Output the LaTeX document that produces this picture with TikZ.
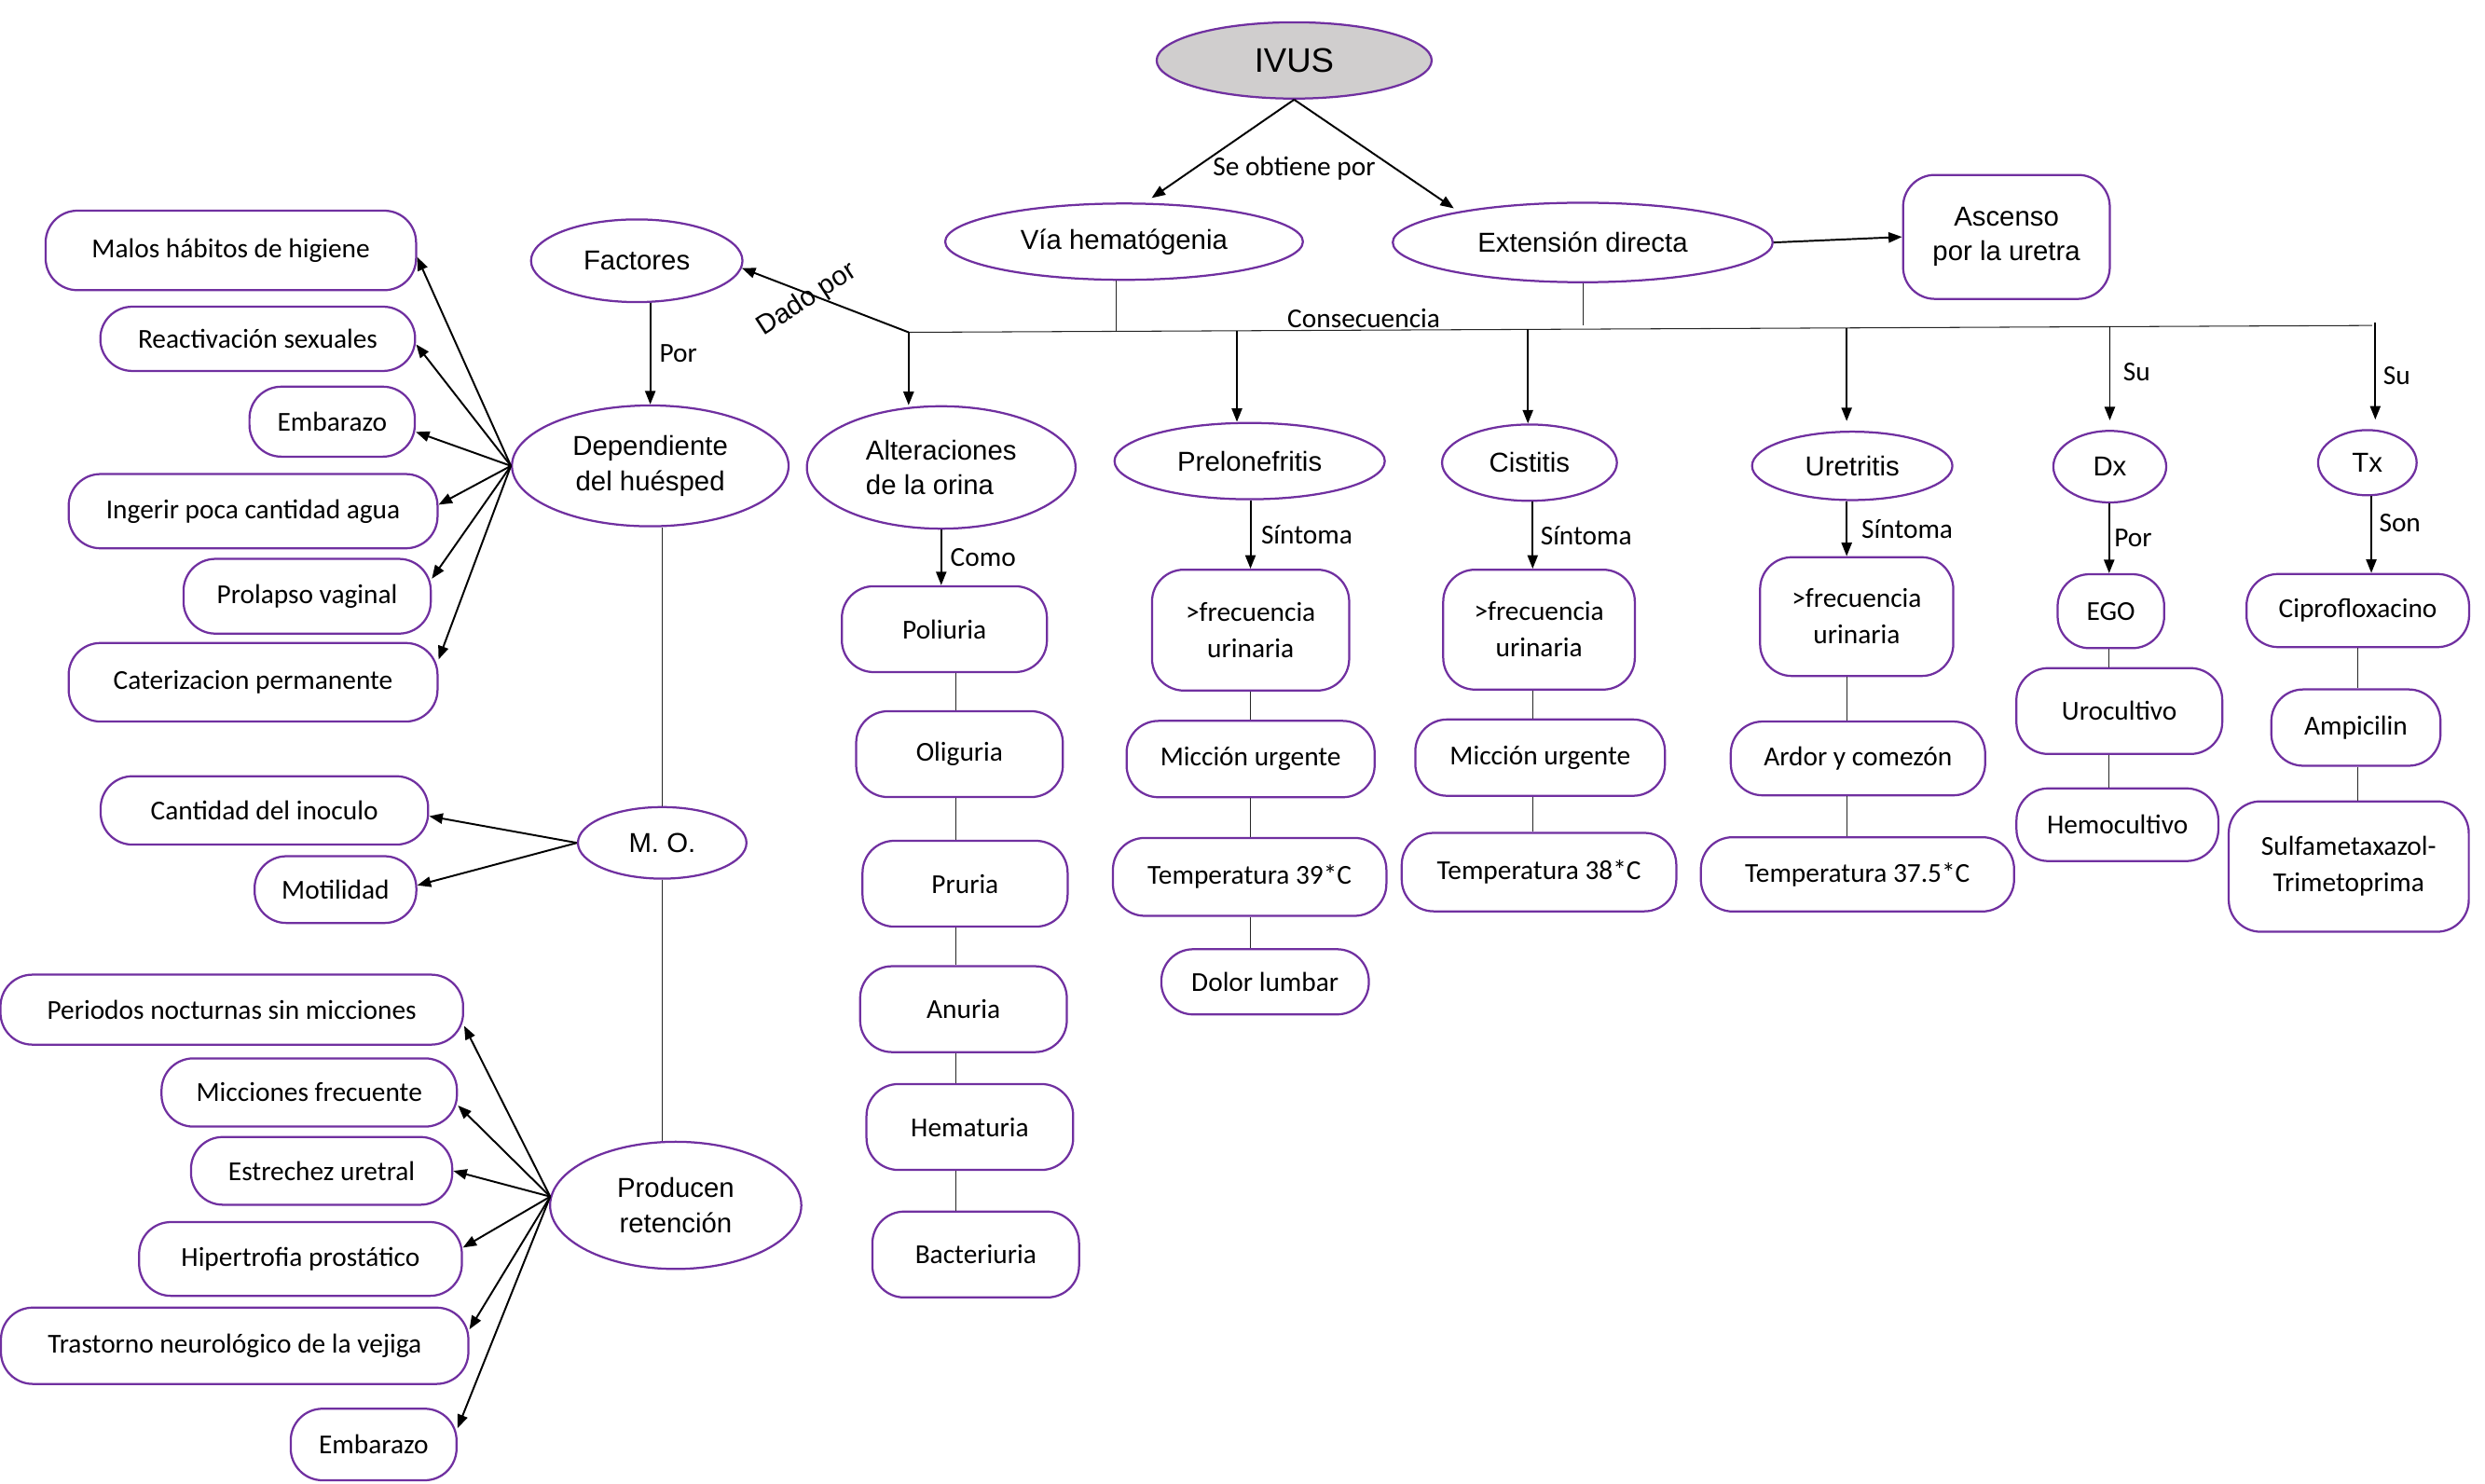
\documentclass[tikz,border=0pt]{standalone}
\usepackage{fontspec}
\setmainfont{Carlito}
\newfontfamily\arial{Liberation Sans}
\usetikzlibrary{positioning, arrows.meta, shapes.geometric}

\definecolor{morado}{HTML}{7030A0}
\definecolor{grisivus}{HTML}{D0CECE}

\tikzset{
    concepto/.style={ellipse, draw=morado, line width=0.75pt, inner sep=0pt,
        align=center, font=\arial\fontsize{9.8}{12.5}\selectfont},
    caja/.style={rectangle, rounded corners=0.4cm, draw=morado, line width=0.75pt,
        inner sep=0pt, align=center, font=\fontsize{9.8}{13}\selectfont},
    tam/.style 2 args={minimum width=#1*0.02cm, minimum height=#2*0.02cm},
    flecha/.style={-{Triangle[length=0.17cm, width=0.13cm]}, line width=0.65pt},
    enlace/.style={line width=0.35pt, draw=black!85},
    etiq/.style={font=\fontsize{9.8}{12}\selectfont, inner sep=0pt},
}

\begin{document}
\begin{tikzpicture}[x=0.02cm, y=-0.02cm]
    \useasboundingbox (0,0) rectangle (1563,933);

    % Nivel superior
    \node[concepto, tam={173}{48}, fill=grisivus, font=\arial\fontsize{12.2}{14}\selectfont] (ivus) at (814,38) {IVUS};
    \node[concepto, tam={225}{48}] (via) at (707,152) {Vía hematógenia};
    \node[concepto, tam={239}{50}] (ext) at (995.5,152.5) {Extensión directa};
    \node[caja, tam={130}{78}, font=\arial\fontsize{9.8}{12.5}\selectfont] (asc) at (1262,149) {Ascenso\\por la uretra};
    \node[etiq] (seob) at (814,106) {Se obtiene por};

    \draw[flecha, shorten >=3pt] (ivus.south) -- (via.62);
    \draw[flecha, shorten >=2pt] (ivus.south) -- (ext.166);
    \draw[flecha] (ext.east) -- (asc.west);

    % Segundo nivel
    \node[concepto, tam={133}{52}] (fac) at (400.5,164) {Factores};
    \node[concepto, tam={174}{76}] (dep) at (409,293) {Dependiente\\del huésped};
    \node[concepto, tam={169}{77}, align=left] (alt) at (592,294) {Alteraciones\\de la orina};
    \node[concepto, tam={170}{48}] (pre) at (786,290) {Prelonefritis};
    \node[concepto, tam={110}{48}] (cis) at (962,291) {Cistitis};
    \node[concepto, tam={126}{43}] (ure) at (1165,293) {Uretritis};
    \node[concepto, tam={71}{45}] (dx) at (1327,293.5) {Dx};
    \node[concepto, tam={62}{41}] (tx) at (1489,291) {Tx};

    % Consecuencia
    \coordinate (ci) at (571.5,209);
    \coordinate (cd) at (1492,204.7);
    \coordinate (kpre) at (778,208);
    \coordinate (kcis) at (961,207.1);
    \coordinate (kure) at (1161.5,206.2);
    \coordinate (kdx) at (1327,205.4);
    \coordinate (ktx) at (1494,203);
    \coordinate (kvia) at (702,208.5);
    \draw[enlace] (ci) -- node[etiq, above=0.5pt, pos=0.311] (cons) {Consecuencia} (cd);
    \draw[enlace] (kvia |- via.south) -- (kvia);
    \draw[enlace] (ext.south) -- (ext.south |- cd);

    \draw[flecha] (ci) -- (fac.-4);
    \node[etiq, font=\arial\fontsize{9.8}{12}\selectfont, rotate=33] (dado) at (507.6,188.5) {Dado por};
    \draw[flecha] (fac.south -| dep.north) -- node[etiq, right=3pt] (por1) {Por} (dep.north);

    \draw[flecha] (ci) -- (ci |- alt.north);
    \draw[flecha] (kpre) -- (kpre |- pre.north);
    \draw[flecha] (kcis) -- (kcis |- cis.north);
    \draw[flecha, shorten >=3.4pt] (kure) -- (kure |- ure.north);
    \draw[flecha, shorten >=3.4pt] (kdx) -- node[etiq, right=4.5pt, pos=0.44] (su1) {Su} (kdx |- dx.north);
    \draw[flecha, shorten >=3.4pt] (ktx) -- node[etiq, right=2.5pt, pos=0.5] (su2) {Su} (ktx |- tx.north);

    % Factores del huesped
    \node[caja, tam={233}{50}] (malos) at (145.2,157.5) {Malos hábitos de higiene};
    \node[caja, tam={198}{40.4}] (react) at (162.1,213.1) {Reactivación sexuales};
    \node[caja, tam={104}{44}] (emb1) at (208.9,265.2) {Embarazo};
    \node[caja, tam={232}{46.7}] (ing) at (159.2,321.5) {Ingerir poca cantidad agua};
    \node[caja, tam={155.5}{47}] (prol) at (193.2,375) {Prolapso vaginal};
    \node[caja, tam={232}{49.4}] (cat) at (159.2,429.1) {Caterizacion permanente};

    \draw[flecha] (dep.west) -- (malos.-2.7);
    \draw[flecha] (dep.west) -- (react.-2.2);
    \draw[flecha] (dep.west) -- (emb1.-7.7);
    \draw[flecha] (dep.west) -- (ing.2.5);
    \draw[flecha] (dep.west) -- (prol.8.5);
    \draw[flecha] (dep.west) -- (cat.7.3);

    % Microorganismo
    \node[concepto, tam={106}{45}] (mo) at (416.5,530.1) {M. O.};
    \node[caja, tam={206}{43}] (cant) at (166.3,509.7) {Cantidad del inoculo};
    \node[caja, tam={101.7}{42}] (mot) at (211,559.5) {Motilidad};
    \draw[enlace] (mo.north |- dep.south) -- (mo.north);
    \draw[flecha] (mo.west) -- (cant.-2.1);
    \draw[flecha] (mo.west) -- (mot.3.6);

    % Retencion
    \node[concepto, tam={158}{80}] (prod) at (425,758.1) {Producen\\retención};
    \draw[enlace] (mo.south) -- (mo.south |- prod.north);
    \node[caja, tam={291}{44}] (per) at (145.8,635) {Periodos nocturnas sin micciones};
    \node[caja, tam={185.8}{42.9}] (mic) at (194.5,687.1) {Micciones frecuente};
    \node[caja, tam={164.3}{42.6}] (est) at (202.3,736.4) {Estrechez uretral};
    \node[caja, tam={203}{46.4}] (hip) at (189,791.8) {Hipertrofia prostático};
    \node[caja, tam={294}{48}] (tras) at (147.6,846.4) {Trastorno neurológico de la vejiga};
    \node[caja, tam={104.3}{45}] (emb2) at (235,908.5) {Embarazo};

    \draw[flecha] (prod.176) -- (per.-4.3);
    \draw[flecha] (prod.176) -- (mic.-5.9);
    \draw[flecha] (prod.176) -- (est.east);
    \draw[flecha] (prod.176) -- (hip.4.4);
    \draw[flecha] (prod.176) -- (tras.4.7);
    \draw[flecha] (prod.176) -- (emb2.11.5);

    % Alteraciones de la orina
    \coordinate (colalt) at (601,0);
    \node[caja, tam={129}{54}] (poli) at (594,395.7) {Poliuria};
    \node[caja, tam={130}{54}] (olig) at (603.5,474.3) {Oliguria};
    \node[caja, tam={129}{54}] (prur) at (607,555.8) {Pruria};
    \node[caja, tam={130}{54}] (anu) at (606,634.7) {Anuria};
    \node[caja, tam={130}{54}] (hema) at (610,708.8) {Hematuria};
    \node[caja, tam={130}{54}] (bact) at (613.7,789) {Bacteriuria};
    \draw[flecha] (alt.south) -- node[etiq, right=3pt] (como) {Como} (alt.south |- poli.north);
    \foreach \a/\b in {poli/olig, olig/prur, prur/anu, anu/hema, hema/bact}
        \draw[enlace] (colalt |- \a.south) -- (colalt |- \b.north);

    % Prelonefritis
    \coordinate (colpre) at (786.5,0);
    \node[caja, tam={124}{76}] (pf1) at (786.6,396.3) {>frecuencia\\urinaria};
    \node[caja, tam={156}{48}] (pf2) at (786.6,477.4) {Micción urgente};
    \node[caja, tam={172}{49}] (pf3) at (786,551.5) {Temperatura 39*C};
    \node[caja, tam={130.5}{41}] (pf4) at (795.7,617.5) {Dolor lumbar};
    \draw[flecha] (colpre |- pre.south) -- node[etiq, right=3.5pt] (sin1) {Síntoma} (colpre |- pf1.north);
    \foreach \a/\b in {pf1/pf2, pf2/pf3, pf3/pf4}
        \draw[enlace] (colpre |- \a.south) -- (colpre |- \b.north);

    % Cistitis
    \coordinate (colcis) at (964,0);
    \node[caja, tam={120.5}{75.4}] (cf1) at (968,396) {>frecuencia\\urinaria};
    \node[caja, tam={157}{48}] (cf2) at (968.7,476.5) {Micción urgente};
    \node[caja, tam={172.7}{49.3}] (cf3) at (968,548.5) {Temperatura 38*C};
    \draw[flecha] (colcis |- cis.south) -- node[etiq, right=2.5pt] (sin2) {Síntoma} (colcis |- cf1.north);
    \foreach \a/\b in {cf1/cf2, cf2/cf3}
        \draw[enlace] (colcis |- \a.south) -- (colcis |- \b.north);

    % Uretritis
    \coordinate (colure) at (1161.5,0);
    \node[caja, tam={121.5}{74.7}] (uf1) at (1167.8,387.8) {>frecuencia\\urinaria};
    \node[caja, tam={160}{46.4}] (uf2) at (1168.6,477) {Ardor y comezón};
    \node[caja, tam={197}{46.7}] (uf3) at (1168.3,549.9) {Temperatura 37.5*C};
    \draw[flecha] (colure |- ure.south) -- node[etiq, right=5pt] (sin3) {Síntoma} (colure |- uf1.north);
    \foreach \a/\b in {uf1/uf2, uf2/uf3}
        \draw[enlace] (colure |- \a.south) -- (colure |- \b.north);

    % Diagnostico
    \coordinate (coldx) at (1326.6,0);
    \node[caja, tam={67}{46.5}] (ego) at (1327.7,384.4) {EGO};
    \node[caja, tam={129.5}{54}] (uro) at (1333,447.2) {Urocultivo};
    \node[caja, tam={127}{45.7}] (hemo) at (1331.8,518.7) {Hemocultivo};
    \draw[flecha] (coldx |- dx.south) -- node[etiq, right=1.5pt] (por2) {Por} (coldx |- ego.north);
    \foreach \a/\b in {ego/uro, uro/hemo}
        \draw[enlace] (coldx |- \a.south) -- (coldx |- \b.north);

    % Tratamiento
    \coordinate (coltx) at (1482.7,0);
    \node[caja, tam={140}{46}] (cip) at (1483,384) {Ciprofloxacino};
    \node[caja, tam={106.4}{48}] (amp) at (1481.8,457.6) {Ampicilin};
    \node[caja, tam={151}{82}] (sulf) at (1477.3,545) {Sulfametaxazol-\\Trimetoprima};
    \draw[flecha] ([xshift=0.05cm]tx.south) -- node[etiq, right=2.5pt, pos=0.35] (son) {Son} ([xshift=0.05cm]tx.south |- cip.north);
    \foreach \a/\b in {cip/amp, amp/sulf}
        \draw[enlace] (coltx |- \a.south) -- (coltx |- \b.north);
\end{tikzpicture}
\end{document}
